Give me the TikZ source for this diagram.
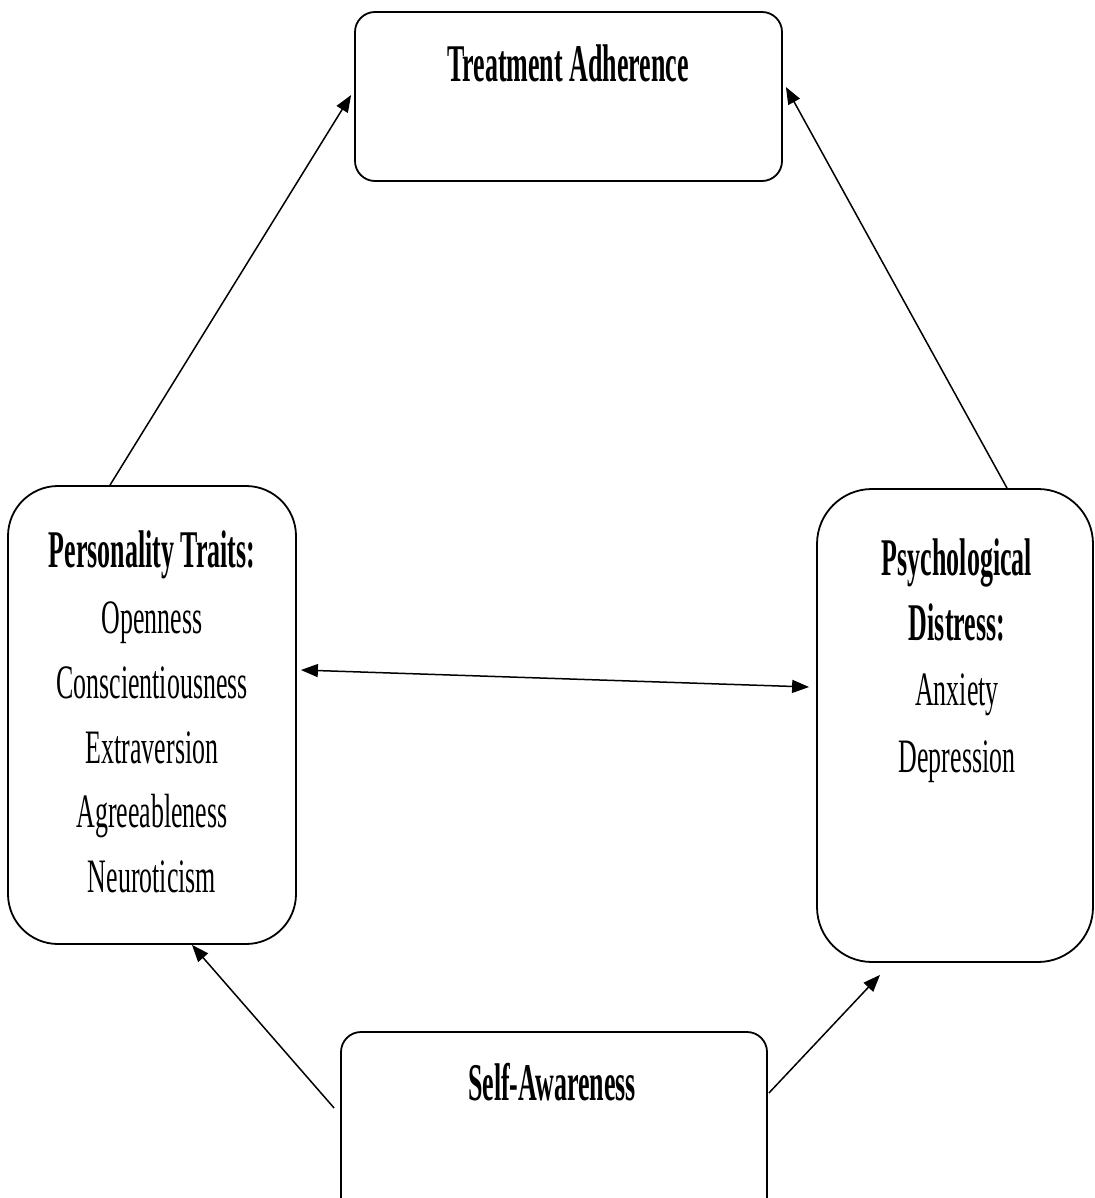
\documentclass[tikz,border=0pt]{standalone}
\usepackage{fontspec}
\setmainfont{Liberation Serif}
\newfontfamily\cond[FakeStretch=0.54]{Liberation Serif}
\newfontfamily\condb[FakeStretch=0.49]{Liberation Serif}
\usetikzlibrary{arrows.meta}
\tikzset{
  box/.style={draw, line width=1.8pt, inner sep=0pt},
  lbl/.style={anchor=base, inner sep=0pt, font=\cond\fontsize{48}{65}\selectfont},
  hd/.style={anchor=base, inner sep=0pt, font=\condb\bfseries\fontsize{53}{65}\selectfont},
  conn/.style={line width=1.5pt, -{Triangle[length=17pt,width=13pt]}},
  dconn/.style={line width=1.5pt, {Triangle[length=17pt,width=13pt]}-{Triangle[length=17pt,width=13pt]}}
}
\begin{document}
\begin{tikzpicture}[x=1pt,y=-1pt]
\useasboundingbox (0,0) rectangle (1094,1198);
\fill[white] (0,0) rectangle (1094,1198);
% boxes
\node[box, rounded corners=20pt, minimum width=427pt, minimum height=169pt] (ta) at (568.5,96.5) {};
\node[box, rounded corners=50pt, minimum width=288pt, minimum height=458pt] (pt) at (152,715) {};
\node[box, rounded corners=55pt, minimum width=276pt, minimum height=473pt] (pd) at (955,725.5) {};
\node[box, rounded corners=20pt, minimum width=426pt, minimum height=190pt] (sa) at (554,1127) {};
% texts
\node[hd] (tat) at (568,82) {Treatment Adherence};
\node[hd] (pt1) at (152,567) {Personality Traits:};
\node[lbl] (pt2) at (152,633) {Openness};
\node[lbl] (pt3) at (152,698) {Conscientiousness};
\node[lbl] (pt4) at (152,763) {Extraversion};
\node[lbl] (pt5) at (152,827) {Agreeableness};
\node[lbl] (pt6) at (152,892) {Neuroticism};
\node[hd] (pd1) at (957,575) {Psychological};
\node[hd] (pd2) at (957,640) {Distress:};
\node[lbl] (pd3) at (957,705) {Anxiety};
\node[lbl] (pd4) at (957,772) {Depression};
\node[hd] (sat) at (552,1100) {Self-Awareness};
% connectors
\draw[conn] ([xshift=-42pt]pt.north) -- ([xshift=-3pt,yshift=1.5pt]ta.west);
\draw[conn] ([xshift=52pt]pd.north) -- ([xshift=3pt,yshift=9.5pt]ta.east);
\draw[dconn] ([xshift=4pt,yshift=45pt]pt.east) -- ([xshift=-7pt,yshift=38.5pt]pd.west);
\draw[conn] ([xshift=-6pt,yshift=19pt]sa.west) -- ([xshift=40pt]pt.south);
\draw[conn] ([xshift=1pt,yshift=34pt]sa.east) -- ([xshift=-75pt,yshift=-12pt]pd.south);
\end{tikzpicture}
\end{document}
